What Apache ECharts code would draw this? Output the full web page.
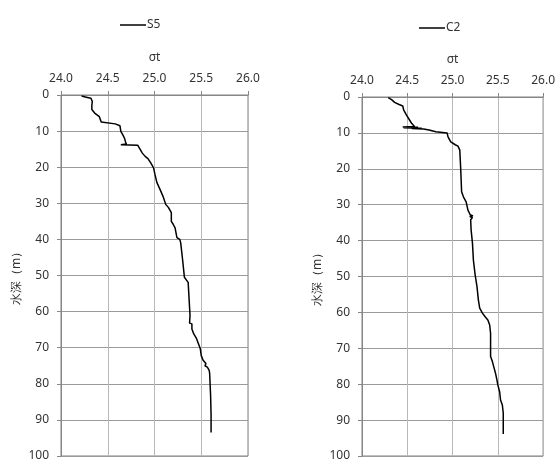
<!DOCTYPE html>
<html><head><meta charset="utf-8">
<script src="https://cdn.jsdelivr.net/npm/echarts@6/dist/echarts.min.js"></script>
<style>html,body{margin:0;padding:0;background:#fff}#c{width:558px;height:462px}</style>
</head><body><div id="c"></div>
<script>
const xTicks = ['24.0','24.5','25.0','25.5','26.0'];
const yTicks = [0,10,20,30,40,50,60,70,80,90,100];
const xName = 'σt';
const yName = '水深（m）';
const seriesNames = ['S5','C2'];

const s5Depth = [0.3,0.6,0.9,1.8,2.8,3.2,4.0,5.0,6.0,7.5,7.9,8.0,8.5,10.1,11.0,12.0,13.0,13.6,13.8,13.9,15.0,16.1,17.0,17.6,18.8,20.2,22.0,24.2,24.4,24.6,26.2,28.0,30.3,31.2,32.6,35.0,35.2,35.4,35.8,36.8,39.5,40.0,40.9,45.5,50.5,51.2,51.9,56.5,61.1,63.2,63.4,63.6,64.8,66.2,67.5,68.9,70.3,72.2,73.5,74.4,75.0,75.4,76.3,77.2,83.2,88.7,93.5];
const s5Sigma = [24.22,24.27,24.32,24.335,24.33,24.345,24.33,24.36,24.41,24.43,24.45,24.58,24.63,24.64,24.66,24.68,24.69,24.70,24.64,24.82,24.845,24.87,24.90,24.93,24.96,24.99,25.005,25.025,25.04,25.03,25.06,25.09,25.12,25.15,25.18,25.18,25.165,25.18,25.20,25.22,25.24,25.27,25.28,25.30,25.32,25.34,25.36,25.37,25.38,25.375,25.40,25.385,25.40,25.42,25.45,25.47,25.49,25.50,25.52,25.55,25.54,25.565,25.585,25.59,25.60,25.605,25.605];

const c2Depth = [0.2,0.8,1.5,2.1,2.5,2.7,3.6,5.0,6.4,7.4,8.2,8.35,8.45,8.55,8.7,8.8,8.9,9.2,9.7,10.0,11.1,12.5,13.3,13.7,14.8,20.0,26.4,27.8,29.2,31.5,32.8,33.1,33.3,33.6,34.2,37.0,40.7,45.4,49.6,52.8,56.5,58.8,60.2,61.2,62.1,63.5,65.8,72.3,73.7,75.6,77.0,78.8,80.2,82.1,84.4,85.8,88.1,93.9];
const c2Sigma = [24.29,24.33,24.36,24.41,24.45,24.47,24.46,24.49,24.525,24.55,24.58,24.45,24.62,24.46,24.66,24.55,24.68,24.74,24.815,24.94,24.95,24.98,25.03,25.06,25.08,25.09,25.10,25.12,25.15,25.17,25.195,25.225,25.19,25.22,25.20,25.205,25.22,25.23,25.25,25.27,25.285,25.30,25.33,25.36,25.39,25.41,25.42,25.42,25.44,25.46,25.475,25.49,25.50,25.52,25.53,25.55,25.56,25.56];

const font = 'Noto Sans, sans-serif';
const textColor = '#333333';
function pairs(sig, dep){ return sig.map((s,i)=>[s, dep[i]]); }

const grids = [
  {left:61, top:95, width:187, height:363},
  {left:362, top:97, width:184, height:359}
];
function xAxis(i){
  return {gridIndex:i, type:'value', position:'top', min:24, max:26, interval:0.5,
    name:xName, nameLocation:'middle', nameGap:31,
    nameTextStyle:{color:textColor, fontSize:12, fontFamily:font},
    axisLabel:{color:textColor, fontSize:12, fontFamily:font, margin:10,
      formatter:v=>xTicks[Math.round((v-24)/0.5)]},
    axisLine:{show:true, lineStyle:{color:'#868686', width:1}},
    axisTick:{show:true, inside:false, length:4, lineStyle:{color:'#868686'}},
    splitLine:{show:true, lineStyle:{color:'#b8b8b8', width:1}}};
}
function yAxis(i){
  return {gridIndex:i, type:'value', inverse:true, min:0, max:100, interval:10,
    name:yName, nameLocation:'middle', nameGap:38, nameRotate:90,
    nameTextStyle:{color:textColor, fontSize:12, fontFamily:font},
    axisLabel:{color:textColor, fontSize:12, fontFamily:font, margin:12,
      formatter:v=>String(yTicks[Math.round(v/10)])},
    axisLine:{show:true, lineStyle:{color:'#868686', width:1}},
    axisTick:{show:true, inside:false, length:4, lineStyle:{color:'#868686'}},
    splitLine:{show:true, lineStyle:{color:'#9a9a9a', width:1}}};
}
const chart = echarts.init(document.getElementById('c'), null, {renderer:'canvas'});
chart.setOption({
  animation:false,
  backgroundColor:'#fff',
  grid: grids.map(g=>Object.assign({show:true, borderColor:'#808080', borderWidth:1, backgroundColor:'transparent'}, g)),
  legend:[
    {data:[seriesNames[0]], left:115, top:14, icon:'rect', itemWidth:26, itemHeight:1.5, itemGap:4,
     textStyle:{color:textColor, fontSize:12, fontFamily:font, padding:[0,0,0,-4]}},
    {data:[seriesNames[1]], left:414, top:17, icon:'rect', itemWidth:26, itemHeight:1.5, itemGap:4,
     textStyle:{color:textColor, fontSize:12, fontFamily:font, padding:[0,0,0,-4]}}
  ],
  xAxis:[xAxis(0), xAxis(1)],
  yAxis:[yAxis(0), yAxis(1)],
  series:[
    {name:seriesNames[0], type:'line', xAxisIndex:0, yAxisIndex:0, symbol:'none',
     data:pairs(s5Sigma, s5Depth), lineStyle:{color:'#000', width:1.5}, itemStyle:{color:'#000'}},
    {name:seriesNames[1], type:'line', xAxisIndex:1, yAxisIndex:1, symbol:'none',
     data:pairs(c2Sigma, c2Depth), lineStyle:{color:'#000', width:1.5}, itemStyle:{color:'#000'}}
  ]
});
</script></body></html>
